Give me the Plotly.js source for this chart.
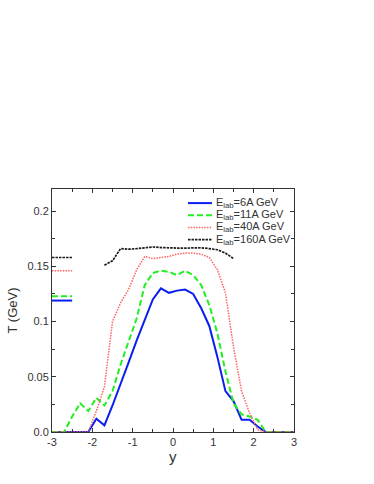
<!DOCTYPE html>
<html>
<head>
<meta charset="utf-8">
<script src="https://cdn.plot.ly/plotly-3.0.1.min.js"></script>
<style>html,body{margin:0;padding:0;background:#fff;}#chart{width:374px;height:484px;}</style>
</head>
<body>
<div id="chart"></div>
<script>
// ---- data ----
const xBlue  = [-3, -2.1, -1.9, -1.7, -1.5, -1.3, -1.1, -0.9, -0.7, -0.5, -0.3, -0.1, 0.1, 0.3, 0.5, 0.7, 0.9, 1.1, 1.3, 1.5, 1.7, 1.9, 2.1, 2.3, 3];
const yBlue  = [0, 0, 0.012, 0.006, 0.024, 0.043, 0.063, 0.083, 0.102, 0.120, 0.130, 0.126, 0.128, 0.129, 0.125, 0.112, 0.096, 0.068, 0.037, 0.028, 0.011, 0.011, 0.005, 0, 0];

const xGreen = [-3, -2.7, -2.5, -2.3, -2.1, -1.9, -1.7, -1.5, -1.3, -1.1, -0.9, -0.7, -0.5, -0.3, -0.1, 0.1, 0.3, 0.5, 0.7, 0.9, 1.1, 1.3, 1.5, 1.7, 1.9, 2.1, 2.3, 3];
const yGreen = [0, 0, 0.014, 0.026, 0.019, 0.031, 0.024, 0.037, 0.061, 0.082, 0.103, 0.133, 0.144, 0.146, 0.145, 0.142, 0.146, 0.142, 0.133, 0.115, 0.0895, 0.055, 0.026, 0.016, 0.014, 0.011, 0, 0];

const xRed   = [-3, -2.1, -1.9, -1.7, -1.5, -1.3, -1.1, -0.9, -0.7, -0.5, -0.3, -0.1, 0.1, 0.3, 0.5, 0.7, 0.9, 1.1, 1.3, 1.5, 1.7, 1.9, 2.1, 2.3, 3];
const yRed   = [0, 0, 0.019, 0.041, 0.100, 0.117, 0.129, 0.147, 0.159, 0.157, 0.158, 0.159, 0.161, 0.162, 0.162, 0.161, 0.158, 0.147, 0.126, 0.077, 0.037, 0.017, 0.002, 0, 0];

const xBlack = [-1.7, -1.5, -1.3, -1.1, -0.9, -0.7, -0.5, -0.3, -0.1, 0.1, 0.3, 0.5, 0.7, 0.9, 1.1, 1.3, 1.5];
const yBlack = [0.151, 0.155, 0.166, 0.1655, 0.166, 0.167, 0.1675, 0.167, 0.1665, 0.1665, 0.1665, 0.1665, 0.1668, 0.166, 0.165, 0.162, 0.157];

// reference levels shown at the left edge
const levelX = [-3, -2.5];
const levelBlue = 0.119, levelGreen = 0.123, levelRed = 0.146, levelBlack = 0.158;

const seriesNames = ['E<sub>lab</sub>=6A GeV', 'E<sub>lab</sub>=11A GeV', 'E<sub>lab</sub>=40A GeV', 'E<sub>lab</sub>=160A GeV'];
const yTickVals = [0, 0.05, 0.1, 0.15, 0.2];
const yTickText = ['0.0', '0.05', '0.1', '0.15', '0.2'];
const xTickVals = [-3, -2, -1, 0, 1, 2, 3];
const xTickText = ['-3', '-2', '-1', '0', '1', '2', '3'];
const xTitle = 'y', yTitle = 'T (GeV)';

// ---- styles ----
const cBlue = '#0a1ef0', cGreen = '#22ee22', cRed = '#ff6262', cBlack = '#1a1a1a';
const sBlue = {color: cBlue, width: 2};
const sGreen = {color: cGreen, width: 2, dash: '6px,3px'};
const sRed = {color: cRed, width: 1.5, dash: '1.5px,1.2px'};
const sBlack = {color: cBlack, width: 1.7, dash: '2.5px,1px'};
const styles = [sBlue, sGreen, sRed, sBlack];

const traces = [
  {x: xBlue, y: yBlue, mode: 'lines', name: seriesNames[0], line: sBlue},
  {x: xGreen, y: yGreen, mode: 'lines', name: seriesNames[1], line: sGreen},
  {x: xRed, y: yRed, mode: 'lines', name: seriesNames[2], line: sRed},
  {x: xBlack, y: yBlack, mode: 'lines', name: seriesNames[3], line: sBlack},
  {x: levelX, y: [levelBlue, levelBlue], mode: 'lines', line: sBlue},
  {x: levelX, y: [levelGreen, levelGreen], mode: 'lines', line: sGreen},
  {x: levelX, y: [levelRed, levelRed], mode: 'lines', line: sRed},
  {x: levelX, y: [levelBlack, levelBlack], mode: 'lines', line: sBlack}
];

const fontFam = '"Liberation Sans", Arial, sans-serif';

// compact legend (drawn in paper coordinates)
const legX0 = 0.562, legX1 = 0.661, legTextX = 0.668, legTop = 0.942, legStep = 0.050;
const shapes = [], annotations = [];
seriesNames.forEach((nm, i) => {
  const yy = legTop - i * legStep;
  shapes.push({type: 'line', xref: 'paper', yref: 'paper', x0: legX0, x1: legX1, y0: yy, y1: yy, line: styles[i]});
  annotations.push({xref: 'paper', yref: 'paper', x: legTextX, y: yy, xanchor: 'left', yanchor: 'middle',
    text: nm, showarrow: false, font: {family: fontFam, size: 11, color: '#333'}});
});
// x-axis title placed just under the tick labels
annotations.push({xref: 'paper', yref: 'paper', x: 0.5, y: -0.062, xanchor: 'center', yanchor: 'top',
  text: xTitle, showarrow: false, borderpad: 0, font: {family: fontFam, size: 15, color: '#333'}});

const axisCommon = {
  showline: true, linecolor: '#333', linewidth: 1, mirror: 'ticks',
  ticks: 'inside', ticklen: 4, tickcolor: '#333', tickwidth: 1,
  showgrid: false, zeroline: false,
  tickfont: {family: fontFam, size: 11, color: '#333'}
};

const layout = {
  width: 374, height: 484,
  margin: {l: 52, r: 80, t: 189, b: 52},
  paper_bgcolor: '#fff', plot_bgcolor: '#fff',
  showlegend: false,
  shapes: shapes,
  annotations: annotations,
  xaxis: Object.assign({}, axisCommon, {
    range: [-3, 3], tickvals: xTickVals, ticktext: xTickText,
    minor: {dtick: 0.5, tick0: 0, ticks: 'inside', ticklen: 3, tickcolor: '#333'}
  }),
  yaxis: Object.assign({}, axisCommon, {
    range: [0, 0.22], tickvals: yTickVals, ticktext: yTickText,
    minor: {dtick: 0.025, tick0: 0, ticks: 'inside', ticklen: 3, tickcolor: '#333'},
    title: {text: yTitle, font: {family: fontFam, size: 13, color: '#333'}, standoff: 6}
  })
};

Plotly.newPlot('chart', traces, layout, {displayModeBar: false, staticPlot: true});
</script>
</body>
</html>
